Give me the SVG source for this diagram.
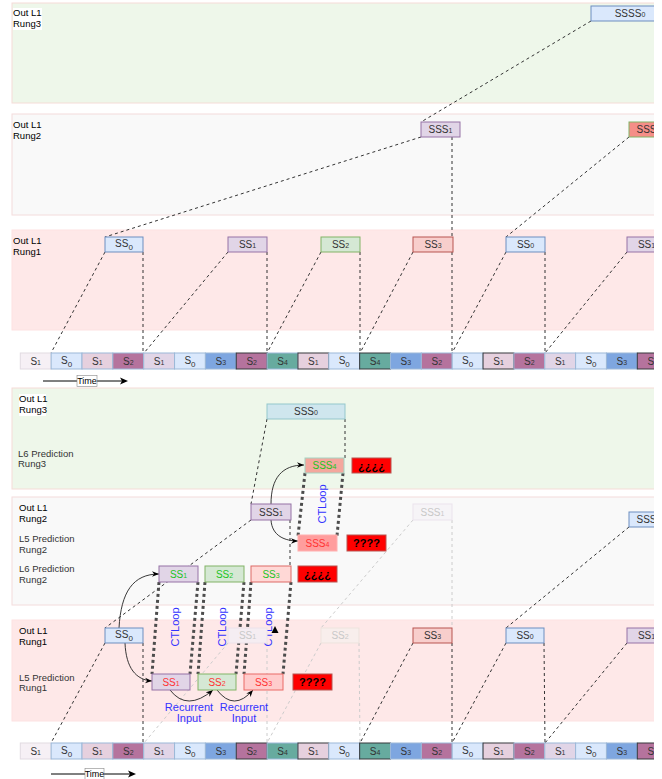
<svg xmlns="http://www.w3.org/2000/svg" width="662" height="779" viewBox="0 0 662 779">
<defs>
<style>
text{font-family:"Liberation Sans",Arial,Helvetica,sans-serif}
.b3{fill:#eef7ea;stroke:#f5dcd7}
.b2{fill:#f9f9f9;stroke:#f3dcdc}
.b1{fill:#fee8e8;stroke:#fde2e2}
.lbl{font-size:9.5px;fill:#000}
.lbl2{font-size:9.5px;fill:#333}
.nt{font-size:10px;fill:#333;text-anchor:middle}
.gt{fill:#22c422}
.rt{fill:#ff3333}
.ft{fill:#c8c8c8}
.sm{font-size:7px}
.sb{font-size:8px}
.blue{fill:#dae8fc;stroke:#6c8ebf}
.purple{fill:#e1d5e7;stroke:#9673a6}
.green{fill:#d5e8d4;stroke:#82b366}
.red{fill:#f8cecc;stroke:#b85450}
.alarm{fill:#ff0000;stroke:#b85450}
.qt{font-size:11px;font-weight:bold;fill:#000;text-anchor:middle}
.dash{fill:none;stroke:#333;stroke-dasharray:3 3}
.fdash{fill:none;stroke:#cccccc;stroke-dasharray:3 3}
.dot{fill:none;stroke:#4d4d4d;stroke-width:3;stroke-dasharray:3 3}
.curve{fill:none;stroke:#222;stroke-width:0.9;marker-end:url(#ah)}
.blt{fill:#3333ff;font-size:11px;text-anchor:middle}
.cell{stroke:#9cb8d8;stroke-width:1}
.dk{stroke:#36393d}
.ct{font-size:10px;fill:#333;text-anchor:middle}
</style>
<marker id="ah" viewBox="0 0 10 10" refX="10" refY="5" markerWidth="7" markerHeight="7" markerUnits="userSpaceOnUse" orient="auto">
<path d="M0,1 L10,5 L0,9 L3,5 z" fill="#000"/>
</marker>
<clipPath id="clip"><rect x="0" y="0" width="654" height="779"/></clipPath>
</defs>
<rect x="0" y="0" width="662" height="779" fill="#fff"/>
<g clip-path="url(#clip)">
<g id="bands">
<rect class="b3" x="12" y="3" width="660" height="100"/>
<rect class="b2" x="12" y="114" width="660" height="101"/>
<rect class="b1" x="12" y="230" width="660" height="100"/>
<rect class="b3" x="12" y="388" width="660" height="101"/>
<rect class="b2" x="12" y="497" width="660" height="108"/>
<rect class="b1" x="12" y="620" width="660" height="101"/>
</g>
<g id="labels">
<rect x="13" y="8" width="29" height="22" fill="#fff"/>
<text class="lbl" x="13" y="16">Out L1</text>
<text class="lbl" x="13" y="27">Rung3</text>
<text class="lbl" x="13" y="128">Out L1</text>
<text class="lbl" x="13" y="139">Rung2</text>
<text class="lbl" x="13" y="244">Out L1</text>
<text class="lbl" x="13" y="255">Rung1</text>
<rect x="19" y="394" width="27" height="22" fill="#fff"/>
<text class="lbl" x="19" y="402">Out L1</text>
<text class="lbl" x="19" y="413">Rung3</text>
<text class="lbl2" x="18" y="457">L6 Prediction</text>
<text class="lbl2" x="18" y="467">Rung3</text>
<text class="lbl" x="19" y="511">Out L1</text>
<text class="lbl" x="19" y="522">Rung2</text>
<text class="lbl2" x="19" y="542">L5 Prediction</text>
<text class="lbl2" x="19" y="553">Rung2</text>
<text class="lbl2" x="19" y="572">L6 Prediction</text>
<text class="lbl2" x="19" y="583">Rung2</text>
<text class="lbl" x="19" y="634">Out L1</text>
<text class="lbl" x="19" y="645">Rung1</text>
<text class="lbl2" x="19" y="681">L5 Prediction</text>
<text class="lbl2" x="19" y="691">Rung1</text>
</g>
<g id="connectors">
<path class="dash" d="M591,21 L421,122"/>
<path class="dash" d="M421,137 L105,237"/>
<path class="dash" d="M452,137 L452,237"/>
<path class="dash" d="M629,137 L506,237"/>
<path class="dash" d="M105,252 L51,353"/>
<path class="dash" d="M143,252 L143,353"/>
<path class="dash" d="M228,252 L144,353"/>
<path class="dash" d="M267,252 L267,353"/>
<path class="dash" d="M321,252 L267,353"/>
<path class="dash" d="M360,252 L360,353"/>
<path class="dash" d="M413,252 L360,353"/>
<path class="dash" d="M452,252 L452,353"/>
<path class="dash" d="M506,252 L452,353"/>
<path class="dash" d="M545,252 L545,353"/>
<path class="dash" d="M627,252 L545,353"/>
<path class="fdash" d="M413,520 L321,628"/>
<path class="fdash" d="M452,520 L452,628"/>
<path class="fdash" d="M228,643 L144,743"/>
<path class="fdash" d="M267,643 L267,743"/>
<path class="fdash" d="M321,643 L267,743"/>
<path class="fdash" d="M359,643 L360,743"/>
<path class="dash" d="M267,419 L251,504"/>
<path class="dash" d="M345,419 L345,458"/>
<path class="dash" d="M251,520 L105,628"/>
<path class="dash" d="M290,520 L290,566"/>
<path class="dash" d="M105,643 L51,743"/>
<path class="dash" d="M143,643 L143,743"/>
<path class="dash" d="M413,643 L360,743"/>
<path class="dash" d="M452,643 L452,743"/>
<path class="dash" d="M506,643 L452,743"/>
<path class="dash" d="M544,643 L545,743"/>
<path class="dash" d="M627,643 L545,743"/>
<path class="dash" d="M629,527 L506,628"/>
<path class="dot" d="M305,473 L298,536"/>
<path class="dot" d="M343,473 L337,536"/>
<path class="dot" d="M159,582 L152,674"/>
<path class="dot" d="M198,582 L190,674"/>
<path class="dot" d="M205,582 L198,674"/>
<path class="dot" d="M244,582 L236,674"/>
<path class="dot" d="M251,582 L244,674"/>
<path class="dot" d="M291,582 L283,674"/>
<path class="curve" d="M271,504 C271,478 282,465 304,465"/>
<path class="curve" d="M271,520 C272,536 285,541 298,541"/>
<path class="curve" d="M119,628 C121,592 133,574 159,574"/>
<path class="curve" d="M125,643 C126,668 136,680 152,681"/>
<path class="curve" d="M170,690 Q187,712 213,690"/>
<path class="curve" d="M217,690 Q234,712 253,690"/>
<polygon points="275,626 271.5,633 278.5,633" fill="#000"/>
<text class="blt" transform="translate(326,504) rotate(-90)">CTLoop</text>
<text class="blt" transform="translate(179,627) rotate(-90)">CTLoop</text>
<text class="blt" transform="translate(226,627) rotate(-90)">CTLoop</text>
<text class="blt" transform="translate(272,627) rotate(-90)">CTLoop</text>
<text class="blt" x="189" y="711">Recurrent</text>
<text class="blt" x="189" y="722">Input</text>
<text class="blt" x="244" y="711">Recurrent</text>
<text class="blt" x="244" y="722">Input</text>
</g>
<g id="time-top">
<line x1="43" y1="381" x2="122" y2="381" stroke="#000" stroke-width="1"/>
<polygon points="128,381 120,377.5 122,381 120,384.5" fill="#000"/>
<rect x="77" y="375.5" width="20" height="11" fill="#fff" stroke="#888" stroke-width="0.6"/>
<text x="87" y="384" font-size="9" text-anchor="middle" fill="#000">Time</text>
</g>
<g id="time-bottom">
<line x1="51" y1="774" x2="130" y2="774" stroke="#000" stroke-width="1"/>
<polygon points="136,774 128,770.5 130,774 128,777.5" fill="#000"/>
<rect x="85" y="768.5" width="19" height="11" fill="#fff" stroke="#888" stroke-width="0.6"/>
<text x="94.5" y="777" font-size="9" text-anchor="middle" fill="#000">Time</text>
</g>
<g id="n-ssss0"><rect class="blue" x="591" y="6" width="78" height="15"/><text class="nt" x="630" y="17">SSSS<tspan class="sm">0</tspan></text></g>
<g id="n-sss1-top"><rect class="purple" x="421" y="122" width="39" height="15"/><text class="nt" x="440.5" y="133">SSS<tspan class="sm">1</tspan></text></g>
<g id="n-sss-red-top"><rect x="629" y="122" width="39" height="15" fill="#f58e88" stroke="#82b366"/><text class="nt" x="636.5" y="133" text-anchor="start" style="text-anchor:start">SSS</text></g>
<g id="n-ss0-a"><rect class="blue" x="105" y="237" width="38" height="15"/><text class="nt" x="124" y="247">SS<tspan class="sb" dy="2.5">0</tspan></text></g>
<g id="n-ss1-a"><rect class="purple" x="228" y="237" width="39" height="15"/><text class="nt" x="247.5" y="248">SS<tspan class="sm">1</tspan></text></g>
<g id="n-ss2-a"><rect class="green" x="321" y="237" width="39" height="15"/><text class="nt" x="340.5" y="248">SS<tspan class="sm">2</tspan></text></g>
<g id="n-ss3-a"><rect class="red" x="413" y="237" width="40" height="15"/><text class="nt" x="433" y="248">SS<tspan class="sm">3</tspan></text></g>
<g id="n-ss0-b"><rect class="blue" x="506" y="237" width="39" height="15"/><text class="nt" x="525.5" y="248">SS<tspan class="sm">0</tspan></text></g>
<g id="n-ss1-b"><rect class="purple" x="627" y="237" width="39" height="15"/><text class="nt" x="646.5" y="248">SS<tspan class="sm">1</tspan></text></g>
<g id="bar-top">
<rect x="20.3" y="353" width="30.85" height="16" fill="#f6f0f5" stroke="#e2dbe2"/><text class="ct ft" x="35.7" y="365">S<tspan class="sm">1</tspan></text>
<rect class="cell" x="51.15" y="353" width="30.85" height="16" fill="#dae8fc"/><text class="ct" x="66.6" y="364">S<tspan class="sb" dy="2.5">0</tspan></text>
<rect class="cell" x="82" y="353" width="30.85" height="16" fill="#e6d0de"/><text class="ct" x="97.4" y="365">S<tspan class="sm">1</tspan></text>
<rect class="cell" x="112.85" y="353" width="30.85" height="16" fill="#b5739d"/><text class="ct" x="128.3" y="365">S<tspan class="sm">2</tspan></text>
<rect class="cell" x="143.7" y="353" width="30.85" height="16" fill="#e1d5e7"/><text class="ct" x="159.1" y="365">S<tspan class="sm">1</tspan></text>
<rect class="cell" x="174.55" y="353" width="30.85" height="16" fill="#dae8fc"/><text class="ct" x="190" y="364">S<tspan class="sb" dy="2.5">0</tspan></text>
<rect class="cell" x="205.4" y="353" width="30.85" height="16" fill="#7ea6e0"/><text class="ct" x="220.8" y="365">S<tspan class="sm">3</tspan></text>
<rect class="cell dk" x="236.25" y="353" width="30.85" height="16" fill="#b5739d"/><text class="ct" x="251.7" y="365">S<tspan class="sm">2</tspan></text>
<rect class="cell" x="267.1" y="353" width="30.85" height="16" fill="#67ab9f"/><text class="ct" x="282.5" y="365">S<tspan class="sm">4</tspan></text>
<rect class="cell dk" x="297.95" y="353" width="30.85" height="16" fill="#e6d0de"/><text class="ct" x="313.4" y="365">S<tspan class="sm">1</tspan></text>
<rect class="cell" x="328.8" y="353" width="30.85" height="16" fill="#dae8fc"/><text class="ct" x="344.2" y="364">S<tspan class="sb" dy="2.5">0</tspan></text>
<rect class="cell dk" x="359.65" y="353" width="30.85" height="16" fill="#67ab9f"/><text class="ct" x="375.1" y="365">S<tspan class="sm">4</tspan></text>
<rect class="cell" x="390.5" y="353" width="30.85" height="16" fill="#7ea6e0"/><text class="ct" x="405.9" y="365">S<tspan class="sm">3</tspan></text>
<rect class="cell" x="421.35" y="353" width="30.85" height="16" fill="#b5739d"/><text class="ct" x="436.8" y="365">S<tspan class="sm">2</tspan></text>
<rect class="cell" x="452.2" y="353" width="30.85" height="16" fill="#dae8fc"/><text class="ct" x="467.6" y="364">S<tspan class="sb" dy="2.5">0</tspan></text>
<rect class="cell dk" x="483.05" y="353" width="30.85" height="16" fill="#e6d0de"/><text class="ct" x="498.5" y="365">S<tspan class="sm">1</tspan></text>
<rect class="cell" x="513.9" y="353" width="30.85" height="16" fill="#b5739d"/><text class="ct" x="529.3" y="365">S<tspan class="sm">2</tspan></text>
<rect class="cell" x="544.75" y="353" width="30.85" height="16" fill="#e1d5e7"/><text class="ct" x="560.2" y="365">S<tspan class="sm">1</tspan></text>
<rect class="cell" x="575.6" y="353" width="30.85" height="16" fill="#dae8fc"/><text class="ct" x="591" y="364">S<tspan class="sb" dy="2.5">0</tspan></text>
<rect class="cell" x="606.45" y="353" width="30.85" height="16" fill="#7ea6e0"/><text class="ct" x="621.9" y="365">S<tspan class="sm">3</tspan></text>
<rect class="cell dk" x="637.3" y="353" width="30.85" height="16" fill="#b5739d"/><text class="ct" x="652.7" y="365">S<tspan class="sm">2</tspan></text>
</g>
<g id="n-sss0-low"><rect x="267" y="404" width="78" height="15" fill="#cfe6ee" stroke="#94c7cc"/><text class="nt" x="306" y="415">SSS<tspan class="sm">0</tspan></text></g>
<g id="n-sss4-r3"><rect x="305" y="458" width="39" height="15" fill="#f4a79d" stroke="#a3d3c2"/><text class="nt gt" x="324.5" y="469">SSS<tspan class="sm">4</tspan></text></g>
<g id="n-inv-r3"><rect class="alarm" x="352" y="458" width="39" height="15"/><text class="qt" x="371.5" y="469.5">¿¿¿¿</text></g>
<g id="n-sss1-low"><rect class="purple" x="251" y="504" width="40" height="16"/><text class="nt" x="271" y="516">SSS<tspan class="sm">1</tspan></text></g>
<g id="n-sss1-faded"><rect x="413" y="504" width="39" height="16" fill="#f6f4f7" stroke="#ebe4ed"/><text class="nt ft" x="432.5" y="516">SSS<tspan class="sm">1</tspan></text></g>
<g id="n-sss-blue"><rect class="blue" x="629" y="512" width="39" height="15"/><text class="nt" x="648.5" y="523">SSS<tspan class="sm">0</tspan></text></g>
<g id="n-sss4-r2"><rect x="298" y="535" width="39" height="16" fill="#ff9d9d" stroke="#ffb0b0"/><text class="nt rt" x="317.5" y="547">SSS<tspan class="sm">4</tspan></text></g>
<g id="n-q-r2"><rect class="alarm" x="347" y="535" width="39" height="16"/><text class="qt" x="366.5" y="547">????</text></g>
<g id="n-ss1-l6"><rect class="purple" x="159" y="566" width="39" height="16"/><text class="nt gt" x="178.5" y="578">SS<tspan class="sm">1</tspan></text></g>
<g id="n-ss2-l6"><rect class="green" x="205" y="566" width="39" height="16"/><text class="nt gt" x="224.5" y="578">SS<tspan class="sm">2</tspan></text></g>
<g id="n-ss3-l6"><rect x="251" y="566" width="40" height="16" fill="#ffd8d6" stroke="#dd6a66"/><text class="nt gt" x="271" y="578">SS<tspan class="sm">3</tspan></text></g>
<g id="n-inv-r2"><rect class="alarm" x="298" y="566" width="39" height="16"/><text class="qt" x="317.5" y="578">¿¿¿¿</text></g>
<g id="n-ss0-c"><rect class="blue" x="105" y="628" width="38" height="15"/><text class="nt" x="124" y="638">SS<tspan class="sb" dy="2.5">0</tspan></text></g>
<g id="n-ss1-faded"><rect x="228" y="628" width="39" height="15" fill="#f5edf2" stroke="#ece2ea"/><text class="nt ft" x="247.5" y="639">SS<tspan class="sm">1</tspan></text></g>
<g id="n-ss2-faded"><rect x="321" y="628" width="38" height="15" fill="#f8eeec" stroke="#ede3dd"/><text class="nt ft" x="340" y="639">SS<tspan class="sm">2</tspan></text></g>
<g id="n-ss3-c"><rect class="red" x="413" y="628" width="39" height="15"/><text class="nt" x="432.5" y="639">SS<tspan class="sm">3</tspan></text></g>
<g id="n-ss0-d"><rect class="blue" x="506" y="628" width="38" height="15"/><text class="nt" x="525" y="639">SS<tspan class="sm">0</tspan></text></g>
<g id="n-ss1-d"><rect class="purple" x="627" y="628" width="39" height="15"/><text class="nt" x="646.5" y="639">SS<tspan class="sm">1</tspan></text></g>
<g id="n-ss1-l5"><rect class="purple" x="152" y="674" width="38" height="16"/><text class="nt rt" x="171" y="686">SS<tspan class="sm">1</tspan></text></g>
<g id="n-ss2-l5"><rect class="green" x="198" y="674" width="38" height="16"/><text class="nt rt" x="217" y="686">SS<tspan class="sm">2</tspan></text></g>
<g id="n-ss3-l5"><rect x="244" y="674" width="39" height="16" fill="#ffcccc" stroke="#ea6b66"/><text class="nt rt" x="263.5" y="686">SS<tspan class="sm">3</tspan></text></g>
<g id="n-q-r1"><rect class="alarm" x="293" y="674" width="39" height="16"/><text class="qt" x="312.5" y="686">????</text></g>
<g id="bar-bottom">
<rect x="20.3" y="743" width="30.85" height="16" fill="#f6f0f5" stroke="#e2dbe2"/><text class="ct ft" x="35.7" y="755">S<tspan class="sm">1</tspan></text>
<rect class="cell" x="51.15" y="743" width="30.85" height="16" fill="#dae8fc"/><text class="ct" x="66.6" y="754">S<tspan class="sb" dy="2.5">0</tspan></text>
<rect class="cell" x="82" y="743" width="30.85" height="16" fill="#e6d0de"/><text class="ct" x="97.4" y="755">S<tspan class="sm">1</tspan></text>
<rect class="cell" x="112.85" y="743" width="30.85" height="16" fill="#b5739d"/><text class="ct" x="128.3" y="755">S<tspan class="sm">2</tspan></text>
<rect class="cell" x="143.7" y="743" width="30.85" height="16" fill="#e1d5e7"/><text class="ct" x="159.1" y="755">S<tspan class="sm">1</tspan></text>
<rect class="cell" x="174.55" y="743" width="30.85" height="16" fill="#dae8fc"/><text class="ct" x="190" y="754">S<tspan class="sb" dy="2.5">0</tspan></text>
<rect class="cell" x="205.4" y="743" width="30.85" height="16" fill="#7ea6e0"/><text class="ct" x="220.8" y="755">S<tspan class="sm">3</tspan></text>
<rect class="cell dk" x="236.25" y="743" width="30.85" height="16" fill="#b5739d"/><text class="ct" x="251.7" y="755">S<tspan class="sm">2</tspan></text>
<rect class="cell" x="267.1" y="743" width="30.85" height="16" fill="#67ab9f"/><text class="ct" x="282.5" y="755">S<tspan class="sm">4</tspan></text>
<rect class="cell dk" x="297.95" y="743" width="30.85" height="16" fill="#e6d0de"/><text class="ct" x="313.4" y="755">S<tspan class="sm">1</tspan></text>
<rect class="cell" x="328.8" y="743" width="30.85" height="16" fill="#dae8fc"/><text class="ct" x="344.2" y="754">S<tspan class="sb" dy="2.5">0</tspan></text>
<rect class="cell dk" x="359.65" y="743" width="30.85" height="16" fill="#67ab9f"/><text class="ct" x="375.1" y="755">S<tspan class="sm">4</tspan></text>
<rect class="cell" x="390.5" y="743" width="30.85" height="16" fill="#7ea6e0"/><text class="ct" x="405.9" y="755">S<tspan class="sm">3</tspan></text>
<rect class="cell" x="421.35" y="743" width="30.85" height="16" fill="#b5739d"/><text class="ct" x="436.8" y="755">S<tspan class="sm">2</tspan></text>
<rect class="cell" x="452.2" y="743" width="30.85" height="16" fill="#dae8fc"/><text class="ct" x="467.6" y="754">S<tspan class="sb" dy="2.5">0</tspan></text>
<rect class="cell dk" x="483.05" y="743" width="30.85" height="16" fill="#e6d0de"/><text class="ct" x="498.5" y="755">S<tspan class="sm">1</tspan></text>
<rect class="cell" x="513.9" y="743" width="30.85" height="16" fill="#b5739d"/><text class="ct" x="529.3" y="755">S<tspan class="sm">2</tspan></text>
<rect class="cell" x="544.75" y="743" width="30.85" height="16" fill="#e1d5e7"/><text class="ct" x="560.2" y="755">S<tspan class="sm">1</tspan></text>
<rect class="cell" x="575.6" y="743" width="30.85" height="16" fill="#dae8fc"/><text class="ct" x="591" y="754">S<tspan class="sb" dy="2.5">0</tspan></text>
<rect class="cell" x="606.45" y="743" width="30.85" height="16" fill="#7ea6e0"/><text class="ct" x="621.9" y="755">S<tspan class="sm">3</tspan></text>
<rect class="cell dk" x="637.3" y="743" width="30.85" height="16" fill="#b5739d"/><text class="ct" x="652.7" y="755">S<tspan class="sm">2</tspan></text>
</g>
</g>
</svg>
